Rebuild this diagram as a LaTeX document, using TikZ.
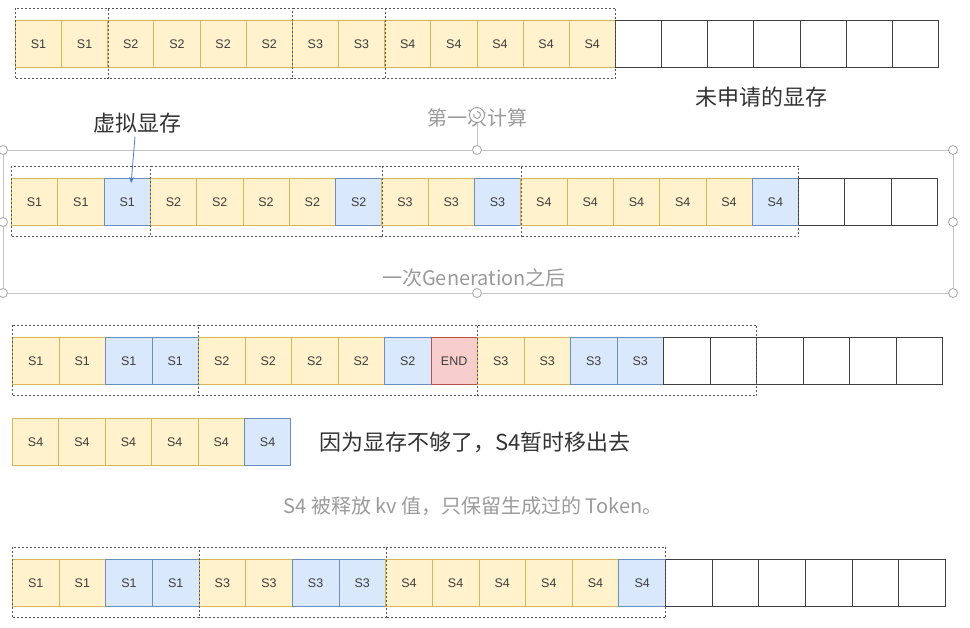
\documentclass[tikz,border=0pt]{standalone}
\usepackage{fontspec}
\setmainfont{Liberation Sans}
\newfontfamily\cjk{Noto Sans CJK SC}
\usetikzlibrary{arrows.meta}
\definecolor{yfill}{HTML}{FFF2CC}
\definecolor{yline}{HTML}{D6B656}
\definecolor{bfill}{HTML}{DAE8FC}
\definecolor{bline}{HTML}{6C8EBF}
\definecolor{rfill}{HTML}{F8CECC}
\definecolor{rline}{HTML}{B85450}
\definecolor{celltext}{HTML}{3C3C3C}
\definecolor{grpline}{HTML}{555555}
\definecolor{gtext}{HTML}{9A9A9A}
\definecolor{selline}{HTML}{C4C4C4}
\definecolor{arrowblue}{HTML}{4A7BD0}
\tikzset{
  cell/.style={
    rectangle,
    anchor=north west,
    minimum height=47pt,
    inner sep=0pt,
    line width=0.8pt,
    text=celltext,
    font=\fontsize{12.5}{14}\selectfont
  },
  yel/.style={cell, fill=yfill, draw=yline},
  blu/.style={cell, fill=bfill, draw=bline},
  endc/.style={cell, fill=rfill, draw=rline},
  free/.style={cell, fill=white, draw=black!75},
  grp/.style={
    draw=grpline,
    line width=0.9pt,
    dash pattern=on 2pt off 2pt
  },
  sel/.style={draw=selline, line width=0.9pt},
  handle/.style={
    circle,
    draw=gray!70,
    fill=white,
    line width=0.8pt,
    inner sep=0pt,
    minimum size=9pt
  },
  note/.style={font=\cjk\fontsize{22}{24}\selectfont, text=black!80},
  graynote/.style={font=\cjk\fontsize{20}{22}\selectfont, text=gtext}
}

\begin{document}
\begin{tikzpicture}[x=1pt, y=-1pt]
    \useasboundingbox (0,0) rectangle (970,628);

    % 1. 第一次计算：按序列预分配
    \def\cw{46.15}
    \foreach \t/\l [count=\i from 0] in {yel/S1,yel/S1,yel/S2,yel/S2,yel/S2,yel/S2,yel/S3,yel/S3,
        yel/S4,yel/S4,yel/S4,yel/S4,yel/S4,free/,free/,free/,free/,free/,free/,free/}
      \node[\t, minimum width=\cw pt] (a\i) at ({15+\i*\cw},20) {\l};
    \draw[grp] ([yshift=12pt]a0.north west) rectangle ([yshift=-11pt]a1.south east);
    \draw[grp] ([yshift=12pt]a1.north east) -| ([yshift=-11pt]a5.south east) -- ([yshift=-11pt]a2.south west);
    \draw[grp] ([yshift=12pt]a5.north east) -| ([yshift=-11pt]a7.south east) -- ([yshift=-11pt]a6.south west);
    \draw[grp] ([yshift=12pt]a7.north east) -| ([yshift=-11pt]a12.south east) -- ([yshift=-11pt]a8.south west);
    \node[note] (unalloc) at (761,97) {未申请的显存};

    % 选中框与句柄
    \draw[sel] (3,150) rectangle (953,293);
    \node[handle] (h1) at (3,150) {};
    \node[handle] (h2) at (477,150) {};
    \node[handle] (h3) at (953,150) {};
    \node[handle] (h4) at (3,222) {};
    \node[handle] (h5) at (953,222) {};
    \node[handle] (h6) at (3,293) {};
    \node[handle] (h7) at (477,293) {};
    \node[handle] (h8) at (953,293) {};
    \node[graynote] (first) at (477,118) {第一次计算};
    \node[circle, draw=gray!80, fill=white, line width=0.9pt, inner sep=0pt, minimum size=15pt] (rot) at (477,115) {};
    \draw[gray!80, line width=0.9pt] (rot.center) ++(0,-3.5) arc[start angle=90, end angle=-200, radius=3.5pt];
    \draw[sel] (rot) -- (h2);
    \node[graynote] (gen) at (474,278) {一次Generation之后};

    % 2. 一次 Generation 之后
    \def\cw{46.3}
    \foreach \t/\l [count=\i from 0] in {yel/S1,yel/S1,blu/S1,yel/S2,yel/S2,yel/S2,yel/S2,blu/S2,
        yel/S3,yel/S3,blu/S3,yel/S4,yel/S4,yel/S4,yel/S4,yel/S4,blu/S4,free/,free/,free/}
      \node[\t, minimum width=\cw pt] (b\i) at ({11+\i*\cw},178) {\l};
    \draw[grp] ([yshift=12pt]b0.north west) rectangle ([yshift=-11pt]b2.south east);
    \draw[grp] ([yshift=12pt]b2.north east) -| ([yshift=-11pt]b7.south east) -- ([yshift=-11pt]b3.south west);
    \draw[grp] ([yshift=12pt]b7.north east) -| ([yshift=-11pt]b10.south east) -- ([yshift=-11pt]b8.south west);
    \draw[grp] ([yshift=12pt]b10.north east) -| ([yshift=-11pt]b16.south east) -- ([yshift=-11pt]b11.south west);
    \node[note] (virt) at (137,123) {虚拟显存};
    \draw[-{Stealth[length=6pt, width=5pt]}, arrowblue, line width=0.8pt]
      ([xshift=-2pt]virt.south) -- ([xshift=4pt, yshift=-5pt]b2.north);

    % 3. S2 结束，S4 被换出
    \def\cw{46.5}
    \foreach \t/\l [count=\i from 0] in {yel/S1,yel/S1,blu/S1,blu/S1,yel/S2,yel/S2,yel/S2,yel/S2,
        blu/S2,endc/END,yel/S3,yel/S3,blu/S3,blu/S3,free/,free/,free/,free/,free/,free/}
      \node[\t, minimum width=\cw pt] (c\i) at ({12+\i*\cw},337) {\l};
    \draw[grp] ([yshift=12pt]c0.north west) rectangle ([yshift=-11pt]c3.south east);
    \draw[grp] ([yshift=12pt]c3.north east) -| ([yshift=-11pt]c9.south east) -- ([yshift=-11pt]c4.south west);
    \draw[grp] ([yshift=12pt]c9.north east) -| ([yshift=-11pt]c15.south east) -- ([yshift=-11pt]c10.south west);

    \def\cw{46.4}
    \foreach \t/\l [count=\i from 0] in {yel/S4,yel/S4,yel/S4,yel/S4,yel/S4,blu/S4}
      \node[\t, minimum width=\cw pt] (d\i) at ({12+\i*\cw},418) {\l};
    \node[note, anchor=west] (swap) at (316,442) {因为显存不够了，S4暂时移出去};
    \node[graynote] (freed) at (473,506) {S4 被释放 kv 值，只保留生成过的 Token。};

    % 4. S4 换回
    \def\cw{46.65}
    \foreach \t/\l [count=\i from 0] in {yel/S1,yel/S1,blu/S1,blu/S1,yel/S3,yel/S3,blu/S3,blu/S3,
        yel/S4,yel/S4,yel/S4,yel/S4,yel/S4,blu/S4,free/,free/,free/,free/,free/,free/}
      \node[\t, minimum width=\cw pt] (e\i) at ({12+\i*\cw},559) {\l};
    \draw[grp] ([yshift=12pt]e0.north west) rectangle ([yshift=-11pt]e3.south east);
    \draw[grp] ([yshift=12pt]e3.north east) -| ([yshift=-11pt]e7.south east) -- ([yshift=-11pt]e4.south west);
    \draw[grp] ([yshift=12pt]e7.north east) -| ([yshift=-11pt]e13.south east) -- ([yshift=-11pt]e8.south west);

\end{tikzpicture}
\end{document}
